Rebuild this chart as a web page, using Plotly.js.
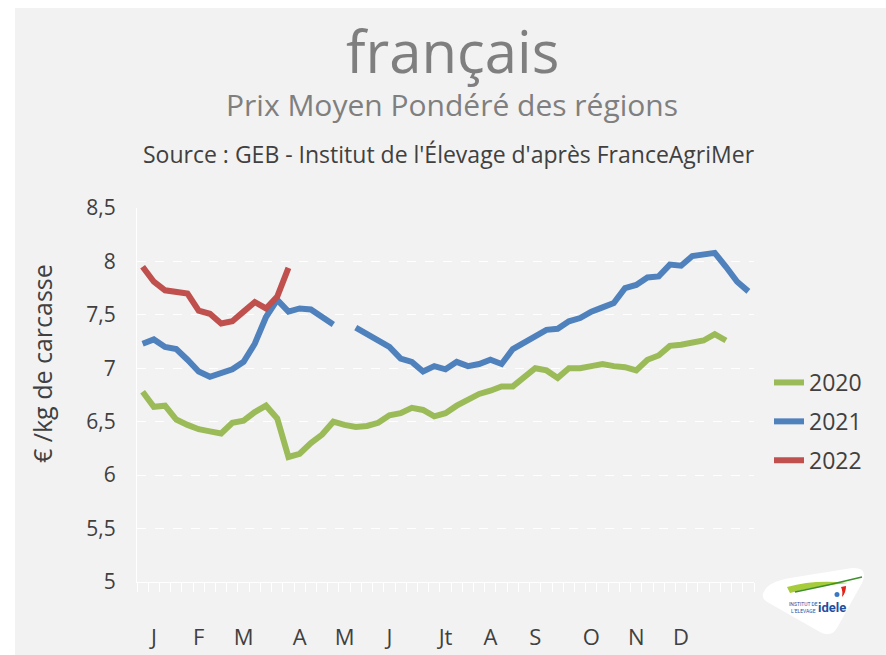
<!DOCTYPE html>
<html>
<head>
<meta charset="utf-8">
<script src="https://cdn.plot.ly/plotly-3.0.1.min.js"></script>
<style>html,body{margin:0;padding:0;background:#fff}#chart{width:886px;height:655px}</style>
</head>
<body>
<div id="chart"></div>
<script>
// ---- data ----
const weeks = Array.from({length: 55}, (_, i) => i + 1);
const series2020 = [6.78, 6.64, 6.65, 6.52, 6.47, 6.43, 6.41, 6.39, 6.49, 6.51, 6.59, 6.65, 6.53, 6.17, 6.20,
  6.30, 6.38, 6.50, 6.47, 6.45, 6.46, 6.49, 6.56, 6.58, 6.63, 6.61, 6.55, 6.58, 6.65, 6.70,
  6.76, 6.79, 6.83, 6.83, 6.92, 7.00, 6.98, 6.91, 7.00, 7.00, 7.02, 7.04, 7.02, 7.01, 6.98,
  7.08, 7.12, 7.21, 7.22, 7.24, 7.26, 7.32, 7.26];
const series2021 = [7.23, 7.27, 7.20, 7.18, 7.08, 6.97, 6.92, 6.95, 6.99, 7.06, 7.23, 7.48, 7.64, 7.53, 7.56,
  7.55, 7.48, 7.41, null, 7.38, 7.32, 7.26, 7.20, 7.09, 7.06, 6.97, 7.02, 6.99, 7.06, 7.02,
  7.04, 7.08, 7.04, 7.18, 7.24, 7.30, 7.36, 7.37, 7.44, 7.47, 7.53, 7.57, 7.61, 7.75, 7.78,
  7.85, 7.86, 7.97, 7.96, 8.05, 8.07, 8.08, 7.95, 7.81, 7.72];
const series2022 = [7.95, 7.81, 7.73, 7.72, 7.70, 7.54, 7.51, 7.42, 7.44, 7.53, 7.62, 7.56, 7.67, 7.94];
const seriesNames = ['2020', '2021', '2022'];
const monthTickWeeks = [2, 6, 10, 15, 19, 23, 28, 32, 36, 41, 45, 49];
const monthLabels = ['J', 'F', 'M', 'A', 'M', 'J', 'Jt', 'A', 'S', 'O', 'N', 'D'];
const titleLine = 'français';
const subtitle = 'Prix Moyen Pondéré des régions';
const sourceText = "Source : GEB - Institut de l'Élevage d'après FranceAgriMer";
const yTitle = '€ /kg de carcasse';

// ---- layout helpers (pixel -> paper) ----
const L = 137, R = 754, T = 208, B = 582;
const X = px => (px - L) / (R - L);
const Y = py => (B - py) / (B - T);
const FONT = '"Open Sans", Lato, sans-serif';
const colors = ['#9bbb59', '#4f81bd', '#c0504d'];

const traces = [series2020, series2021, series2022].map((s, i) => ({
  type: 'scatter', mode: 'lines', name: seriesNames[i], legendgroup: 'g' + i,
  x: weeks.slice(0, s.length), y: s,
  connectgaps: false,
  line: {color: colors[i], width: 6, shape: 'linear'},
  hoverinfo: 'x+y+name'
}));

const layout = {
  width: 886, height: 655,
  margin: {l: L, r: 886 - R, t: T, b: 655 - B, pad: 0},
  paper_bgcolor: '#ffffff',
  plot_bgcolor: 'rgba(0,0,0,0)',
  separators: ', ',
  font: {family: FONT, color: '#404040'},
  showlegend: true,
  legend: {
    x: X(769), y: Y(361), xanchor: 'left', yanchor: 'top',
    bgcolor: 'rgba(0,0,0,0)', borderwidth: 0,
    font: {size: 23, color: '#404040', family: FONT},
    tracegroupgap: 6, traceorder: 'grouped', itemwidth: 30
  },
  xaxis: {
    range: [0.5, 55.5], tickmode: 'array', tickvals: monthTickWeeks, ticktext: monthLabels,
    ticks: '', showgrid: false, zeroline: false,
    showline: true, linecolor: '#ffffff', linewidth: 1,
    tickfont: {size: 22, color: '#404040', family: FONT},
    ticklabelstandoff: 36,
    minor: {tickmode: 'linear', tick0: 0.5, dtick: 1, ticks: 'outside', ticklen: 9, tickcolor: '#ffffff', tickwidth: 1, showgrid: false}
  },
  yaxis: {
    range: [5, 8.5], tickmode: 'linear', tick0: 5, dtick: 0.5,
    showgrid: true, gridcolor: '#ffffff', griddash: 'dash', gridwidth: 1,
    zeroline: false, showline: true, linecolor: '#ffffff', linewidth: 1,
    ticks: '', tickfont: {size: 21, color: '#404040', family: FONT},
    ticklabelstandoff: 16
  },
  shapes: [
    {type: 'rect', xref: 'paper', yref: 'paper', x0: X(15), x1: X(886), y0: Y(8), y1: Y(655), fillcolor: '#f2f2f2', line: {width: 0}, layer: 'below'},
    {type: 'path', xref: 'paper', yref: 'paper', layer: 'above', fillcolor: '#ffffff', line: {width: 0},
      path: `M ${X(765)},${Y(590)} Q ${X(759)},${Y(598)} ${X(769)},${Y(603)} L ${X(820)},${Y(632)} Q ${X(831)},${Y(638)} ${X(837)},${Y(628)} L ${X(862)},${Y(583)} Q ${X(869)},${Y(567)} ${X(852)},${Y(568)} L ${X(790)},${Y(578)} Q ${X(769)},${Y(582)} ${X(765)},${Y(590)} Z`},
    {type: 'path', xref: 'paper', yref: 'paper', layer: 'above', fillcolor: '#a6cc3c', line: {width: 0},
      path: `M ${X(787)},${Y(587)} Q ${X(815)},${Y(579)} ${X(848)},${Y(583)} Q ${X(815)},${Y(586)} ${X(790)},${Y(593)} Z`},
    {type: 'path', xref: 'paper', yref: 'paper', layer: 'above', line: {color: '#3f8f2f', width: 1.5},
      path: `M ${X(795)},${Y(592)} Q ${X(830)},${Y(585)} ${X(862)},${Y(577)}`},
    {type: 'path', xref: 'paper', yref: 'paper', layer: 'above', fillcolor: '#e2231a', line: {width: 0},
      path: `M ${X(841)},${Y(587)} L ${X(846)},${Y(586)} Q ${X(846)},${Y(593)} ${X(842)},${Y(597)} Q ${X(843)},${Y(591)} ${X(841)},${Y(587)} Z`},
    {type: 'circle', xref: 'paper', yref: 'paper', layer: 'above', fillcolor: '#3a78c3', line: {width: 0},
      x0: X(834.5), x1: X(839.5), y0: Y(597), y1: Y(592)}
  ],
  annotations: [
    {text: titleLine, xref: 'paper', yref: 'paper', x: X(452), y: Y(50), xanchor: 'center', yanchor: 'middle', showarrow: false,
      font: {size: 58, color: '#7f7f7f', family: FONT}},
    {text: subtitle, xref: 'paper', yref: 'paper', x: X(452), y: Y(104), xanchor: 'center', yanchor: 'middle', showarrow: false,
      font: {size: 30, color: '#7f7f7f', family: FONT}},
    {text: sourceText, xref: 'paper', yref: 'paper', x: X(449), y: Y(154), xanchor: 'center', yanchor: 'middle', showarrow: false,
      font: {size: 23, color: '#404040', family: FONT}},
    {text: yTitle, xref: 'paper', yref: 'paper', x: X(42), y: Y(364), xanchor: 'center', yanchor: 'middle', showarrow: false,
      textangle: -90, font: {size: 25, color: '#404040', family: FONT}},
    {text: '<b>idele</b>', xref: 'paper', yref: 'paper', x: X(832), y: Y(607), xanchor: 'center', yanchor: 'middle', showarrow: false,
      font: {size: 13, color: '#1f4fa0', family: 'Roboto, sans-serif'}},
    {text: "INSTITUT DE<br>L'ELEVAGE", xref: 'paper', yref: 'paper', x: X(803), y: Y(607), xanchor: 'center', yanchor: 'middle', showarrow: false,
      font: {size: 5, color: '#1f4fa0', family: 'Roboto, sans-serif'}}
  ]
};

Plotly.newPlot('chart', traces, layout, {displayModeBar: false, staticPlot: true});
</script>
</body>
</html>
